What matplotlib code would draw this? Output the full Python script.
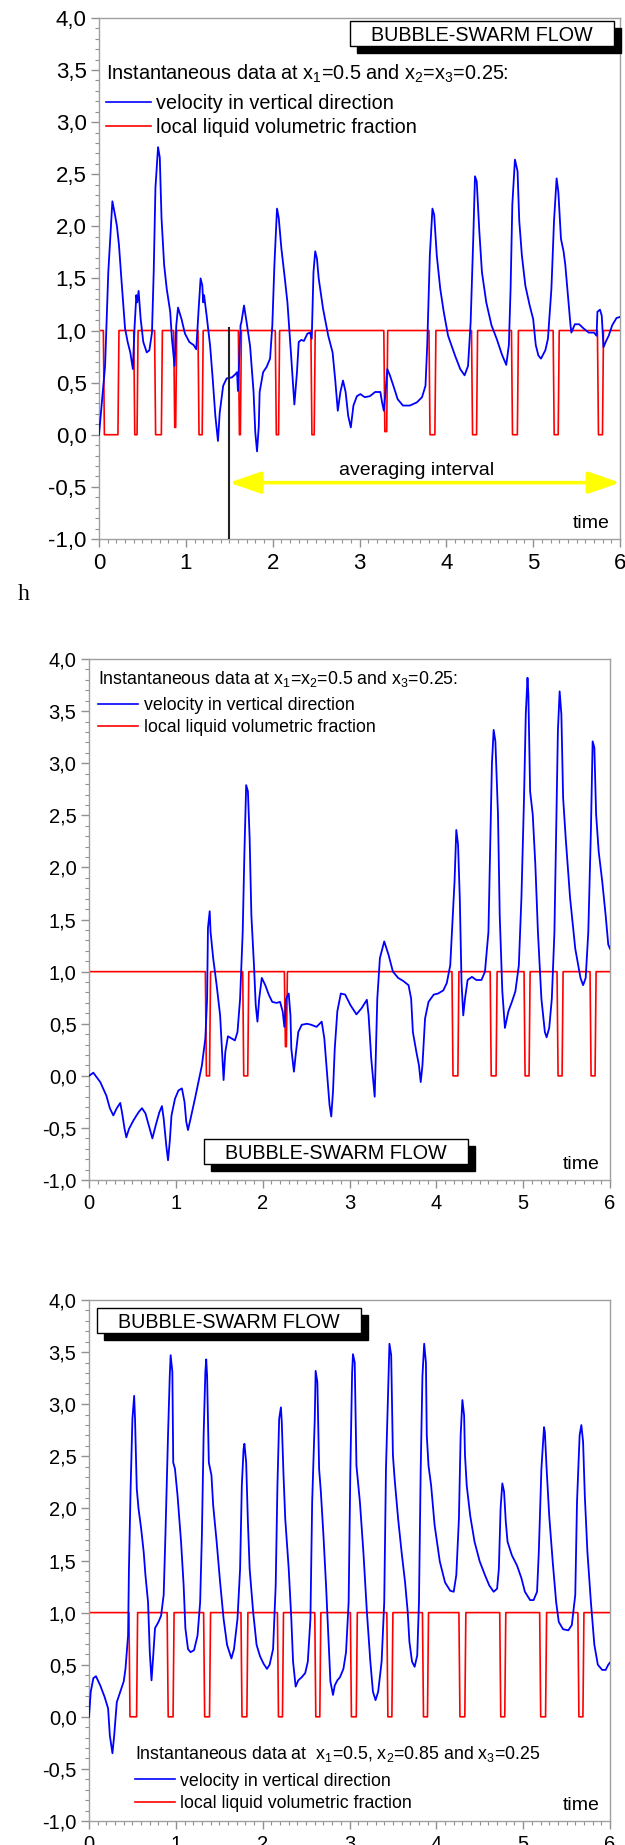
import matplotlib
matplotlib.use('Agg')
import matplotlib.pyplot as plt
from matplotlib.ticker import MultipleLocator, FuncFormatter
from matplotlib.patches import Rectangle

plt.rcParams['font.family'] = ['Liberation Sans', 'DejaVu Sans']

# ---- panel 1: x1=0.5, x2=x3=0.25 ----
t1 = [0.0, 0.07, 0.107, 0.154, 0.184, 0.207, 0.23, 0.26, 0.30, 0.33, 0.36, 0.39, 0.41, 0.43, 0.44,
      0.456, 0.48, 0.51, 0.55, 0.58, 0.61, 0.63, 0.65, 0.68, 0.70, 0.72, 0.75, 0.78, 0.82, 0.84,
      0.87, 0.89, 0.91, 0.95, 0.99, 1.04, 1.09, 1.12, 1.15, 1.17, 1.19, 1.20, 1.21, 1.24, 1.28,
      1.31, 1.34, 1.37, 1.39, 1.43, 1.47, 1.53, 1.57, 1.59, 1.60, 1.63, 1.64, 1.67, 1.70, 1.74,
      1.78, 1.80, 1.82, 1.84, 1.85, 1.89, 1.93, 1.97, 1.996, 2.02, 2.05, 2.07, 2.10, 2.14, 2.17,
      2.21, 2.25, 2.28, 2.30, 2.33, 2.36, 2.40, 2.43, 2.45, 2.47, 2.49, 2.51, 2.53, 2.58, 2.64,
      2.69, 2.72, 2.75, 2.78, 2.81, 2.84, 2.87, 2.90, 2.93, 2.97, 3.01, 3.06, 3.12, 3.18, 3.24,
      3.26, 3.28, 3.30, 3.32, 3.35, 3.39, 3.44, 3.50, 3.58, 3.66, 3.72, 3.76, 3.78, 3.81, 3.84,
      3.86, 3.89, 3.93, 3.97, 4.02, 4.10, 4.16, 4.21, 4.25, 4.28, 4.31, 4.33, 4.35, 4.38, 4.41,
      4.46, 4.52, 4.58, 4.64, 4.69, 4.72, 4.74, 4.76, 4.79, 4.82, 4.84, 4.87, 4.91, 4.96, 5.00,
      5.03, 5.06, 5.09, 5.14, 5.17, 5.21, 5.24, 5.27, 5.29, 5.32, 5.35, 5.37, 5.40, 5.43, 5.44,
      5.48, 5.53, 5.58, 5.64, 5.70, 5.73, 5.74, 5.77, 5.79, 5.81, 5.84, 5.87, 5.91, 5.96, 6.0]
vel1 = [0.0, 0.66, 1.56, 2.24, 2.11, 2.0, 1.82, 1.47, 1.02, 0.89, 0.79, 0.63, 1.04, 1.34, 1.27,
        1.38, 1.11, 0.89, 0.79, 0.81, 0.98, 1.56, 2.37, 2.76, 2.66, 2.08, 1.63, 1.40, 1.18, 0.92,
        0.66, 1.05, 1.22, 1.11, 0.97, 0.89, 0.86, 0.82, 1.24, 1.50, 1.43, 1.27, 1.34, 1.14, 0.85,
        0.53, 0.18, -0.06, 0.21, 0.47, 0.54, 0.55, 0.58, 0.60, 0.42, 1.05, 1.08, 1.24, 1.08, 0.85,
        0.41, 0.02, -0.16, 0.08, 0.41, 0.60, 0.65, 0.73, 1.05, 1.63, 2.17, 2.08, 1.79, 1.50, 1.27,
        0.79, 0.29, 0.60, 0.89, 0.91, 0.90, 0.97, 0.98, 0.92, 1.56, 1.76, 1.69, 1.50, 1.21, 0.95,
        0.79, 0.53, 0.23, 0.41, 0.52, 0.41, 0.18, 0.07, 0.28, 0.37, 0.39, 0.36, 0.37, 0.41, 0.41,
        0.31, 0.23, 0.41, 0.63, 0.57, 0.47, 0.34, 0.28, 0.28, 0.31, 0.36, 0.47, 0.86, 1.72, 2.17,
        2.11, 1.72, 1.40, 1.18, 0.95, 0.76, 0.63, 0.57, 0.66, 1.08, 1.88, 2.48, 2.43, 1.95, 1.56,
        1.27, 1.05, 0.92, 0.77, 0.67, 0.86, 1.40, 2.21, 2.64, 2.53, 2.05, 1.72, 1.43, 1.24, 1.11,
        0.86, 0.76, 0.73, 0.81, 0.92, 1.40, 2.05, 2.46, 2.33, 1.88, 1.76, 1.63, 1.34, 1.05, 0.98,
        1.06, 1.06, 1.02, 0.98, 0.98, 0.95, 1.18, 1.20, 1.14, 0.84, 0.90, 0.95, 1.05, 1.12, 1.13]
# liquid fraction dips: (start, end, lowest value)
dips1 = [(0.05, 0.23, 0.0), (0.40, 0.45, 0.0), (0.64, 0.73, 0.0), (0.86, 0.895, 0.07),
         (1.14, 1.20, 0.0), (1.605, 1.64, 0.0), (2.03, 2.08, 0.0), (2.44, 2.49, 0.0),
         (3.28, 3.325, 0.03), (3.80, 3.88, 0.0), (4.29, 4.36, 0.0), (4.75, 4.83, 0.0),
         (5.23, 5.30, 0.0), (5.74, 5.81, 0.0)]

# ---- panel 2: x1=x2=0.5, x3=0.25 ----
t2 = [0.0, 0.05, 0.13, 0.20, 0.24, 0.28, 0.32, 0.36, 0.38, 0.41, 0.43, 0.46, 0.51, 0.57, 0.61,
      0.65, 0.70, 0.73, 0.77, 0.81, 0.84, 0.86, 0.89, 0.91, 0.93, 0.95, 0.99, 1.03, 1.07, 1.10,
      1.12, 1.14, 1.17, 1.22, 1.26, 1.30, 1.34, 1.36, 1.37, 1.39, 1.40, 1.43, 1.47, 1.51, 1.54,
      1.55, 1.57, 1.60, 1.64, 1.68, 1.71, 1.74, 1.77, 1.79, 1.81, 1.83, 1.85, 1.87, 1.90, 1.92,
      1.94, 1.96, 1.99, 2.03, 2.07, 2.11, 2.16, 2.20, 2.23, 2.25, 2.27, 2.30, 2.32, 2.33, 2.36,
      2.38, 2.41, 2.45, 2.51, 2.56, 2.62, 2.68, 2.71, 2.74, 2.77, 2.79, 2.81, 2.83, 2.86, 2.90,
      2.95, 3.01, 3.08, 3.14, 3.20, 3.22, 3.25, 3.29, 3.30, 3.32, 3.35, 3.40, 3.45, 3.50, 3.56,
      3.62, 3.68, 3.71, 3.73, 3.77, 3.80, 3.82, 3.84, 3.87, 3.91, 3.97, 4.02, 4.08, 4.12, 4.16,
      4.18, 4.21, 4.23, 4.25, 4.27, 4.29, 4.31, 4.33, 4.36, 4.41, 4.46, 4.52, 4.56, 4.60, 4.62,
      4.64, 4.66, 4.68, 4.71, 4.73, 4.76, 4.79, 4.83, 4.87, 4.91, 4.95, 4.98, 5.01, 5.03, 5.05,
      5.06, 5.08, 5.11, 5.14, 5.17, 5.21, 5.25, 5.27, 5.30, 5.33, 5.36, 5.38, 5.40, 5.42, 5.44,
      5.46, 5.49, 5.54, 5.60, 5.66, 5.69, 5.72, 5.75, 5.78, 5.80, 5.82, 5.84, 5.87, 5.91, 5.95,
      5.98, 6.0]
vel2 = [0.0, 0.03, -0.06, -0.19, -0.31, -0.38, -0.31, -0.26, -0.35, -0.51, -0.59, -0.51, -0.43,
        -0.35, -0.31, -0.36, -0.51, -0.60, -0.47, -0.35, -0.29, -0.41, -0.67, -0.81, -0.63, -0.38,
        -0.22, -0.14, -0.12, -0.25, -0.44, -0.52, -0.41, -0.22, -0.06, 0.10, 0.36, 0.74, 1.42,
        1.58, 1.38, 1.13, 0.87, 0.58, 0.10, -0.04, 0.23, 0.38, 0.36, 0.34, 0.42, 0.74, 1.38, 2.15,
        2.79, 2.73, 2.28, 1.54, 1.06, 0.68, 0.52, 0.74, 0.94, 0.87, 0.78, 0.71, 0.70, 0.71, 0.62,
        0.47, 0.74, 0.79, 0.58, 0.26, 0.04, 0.20, 0.42, 0.49, 0.50, 0.49, 0.47, 0.52, 0.36, 0.04,
        -0.28, -0.39, -0.15, 0.26, 0.62, 0.79, 0.78, 0.68, 0.59, 0.65, 0.73, 0.58, 0.17, -0.20,
        0.10, 0.74, 1.13, 1.29, 1.16, 1.00, 0.94, 0.91, 0.87, 0.74, 0.42, 0.23, 0.10, -0.06, 0.10,
        0.55, 0.71, 0.78, 0.79, 0.82, 0.89, 1.06, 1.38, 1.87, 2.36, 2.22, 1.71, 0.90, 0.58, 0.74,
        0.92, 0.95, 0.92, 0.92, 1.00, 1.38, 2.19, 2.99, 3.32, 3.21, 2.51, 1.54, 0.81, 0.46, 0.62,
        0.71, 0.81, 1.06, 1.71, 2.67, 3.47, 3.82, 3.66, 2.73, 2.51, 2.03, 1.38, 0.74, 0.42, 0.37,
        0.46, 0.74, 1.38, 2.35, 3.31, 3.69, 3.47, 2.67, 2.28, 1.71, 1.22, 0.94, 0.87, 0.94, 1.38,
        2.35, 3.21, 3.15, 2.51, 2.15, 1.87, 1.54, 1.26, 1.22]
dips2 = [(1.34, 1.40, 0.0), (1.77, 1.84, 0.0), (2.25, 2.285, 0.28), (4.18, 4.26, 0.0),
         (4.62, 4.70, 0.0), (5.01, 5.08, 0.0), (5.39, 5.46, 0.0), (5.77, 5.84, 0.0)]

# ---- panel 3: x1=0.5, x2=0.85, x3=0.25 ----
t3 = [0.0, 0.02, 0.05, 0.08, 0.13, 0.18, 0.22, 0.24, 0.27, 0.29, 0.32, 0.36, 0.40, 0.42, 0.45,
      0.46, 0.48, 0.50, 0.52, 0.53, 0.55, 0.57, 0.60, 0.63, 0.65, 0.68, 0.70, 0.72, 0.74, 0.76,
      0.80, 0.83, 0.86, 0.88, 0.91, 0.93, 0.94, 0.96, 0.97, 0.99, 1.02, 1.06, 1.09, 1.11, 1.14,
      1.17, 1.21, 1.25, 1.28, 1.30, 1.32, 1.34, 1.35, 1.36, 1.38, 1.41, 1.43, 1.47, 1.51, 1.55,
      1.59, 1.64, 1.67, 1.71, 1.74, 1.76, 1.78, 1.79, 1.81, 1.83, 1.85, 1.89, 1.93, 1.97, 2.01,
      2.05, 2.08, 2.12, 2.15, 2.17, 2.19, 2.21, 2.22, 2.24, 2.26, 2.30, 2.33, 2.35, 2.38, 2.41,
      2.45, 2.49, 2.52, 2.55, 2.57, 2.60, 2.61, 2.63, 2.65, 2.67, 2.70, 2.73, 2.76, 2.78, 2.81,
      2.83, 2.86, 2.89, 2.93, 2.96, 2.99, 3.01, 3.03, 3.04, 3.06, 3.08, 3.12, 3.16, 3.20, 3.24,
      3.27, 3.30, 3.33, 3.37, 3.40, 3.42, 3.45, 3.46, 3.48, 3.50, 3.52, 3.56, 3.60, 3.64, 3.67,
      3.69, 3.72, 3.75, 3.78, 3.80, 3.82, 3.84, 3.86, 3.88, 3.89, 3.91, 3.94, 3.98, 4.04, 4.10,
      4.16, 4.20, 4.23, 4.26, 4.28, 4.30, 4.32, 4.33, 4.35, 4.39, 4.44, 4.50, 4.56, 4.61, 4.66,
      4.70, 4.72, 4.74, 4.76, 4.78, 4.80, 4.82, 4.87, 4.93, 4.98, 5.02, 5.08, 5.12, 5.16, 5.18,
      5.21, 5.24, 5.25, 5.27, 5.30, 5.34, 5.38, 5.41, 5.46, 5.52, 5.56, 5.60, 5.62, 5.65, 5.67,
      5.69, 5.71, 5.74, 5.78, 5.82, 5.86, 5.91, 5.95, 5.98, 6.0]
vel3 = [0.0, 0.24, 0.37, 0.39, 0.30, 0.19, 0.08, -0.18, -0.35, -0.18, 0.14, 0.24, 0.34, 0.46,
        0.78, 1.42, 2.22, 2.86, 3.08, 2.86, 2.19, 2.00, 1.81, 1.58, 1.36, 1.10, 0.62, 0.35, 0.59,
        0.85, 0.91, 0.97, 1.17, 1.74, 2.70, 3.27, 3.47, 3.31, 2.44, 2.38, 2.12, 1.68, 1.26, 0.85,
        0.65, 0.62, 0.64, 0.78, 1.10, 1.74, 2.70, 3.31, 3.43, 3.27, 2.44, 2.32, 2.03, 1.68, 1.29,
        0.94, 0.69, 0.56, 0.65, 0.94, 1.42, 2.22, 2.57, 2.62, 2.44, 1.87, 1.42, 1.01, 0.69, 0.58,
        0.51, 0.46, 0.50, 0.65, 1.26, 2.22, 2.86, 2.97, 2.83, 2.32, 1.90, 1.42, 0.94, 0.53, 0.29,
        0.35, 0.38, 0.42, 0.53, 0.94, 2.06, 2.86, 3.32, 3.21, 2.38, 2.16, 1.74, 1.26, 0.72, 0.34,
        0.21, 0.30, 0.35, 0.38, 0.46, 0.62, 1.10, 2.38, 3.30, 3.48, 3.40, 2.41, 2.06, 1.58, 1.01,
        0.53, 0.24, 0.16, 0.24, 0.53, 1.10, 2.38, 3.27, 3.58, 3.47, 2.51, 2.28, 1.90, 1.58, 1.29,
        1.01, 0.72, 0.53, 0.48, 0.59, 1.10, 2.38, 3.27, 3.58, 3.40, 2.70, 2.41, 2.22, 1.84, 1.49,
        1.29, 1.21, 1.20, 1.36, 1.90, 2.70, 3.04, 2.89, 2.51, 2.22, 1.93, 1.68, 1.49, 1.36, 1.26,
        1.20, 1.23, 1.42, 2.00, 2.24, 2.16, 1.87, 1.68, 1.55, 1.45, 1.33, 1.20, 1.12, 1.12, 1.20,
        1.58, 2.38, 2.78, 2.73, 2.38, 1.93, 1.49, 1.10, 0.91, 0.84, 0.83, 0.88, 1.17, 2.06, 2.70,
        2.80, 2.64, 2.12, 1.58, 1.10, 0.69, 0.50, 0.45, 0.45, 0.50, 0.52]
dips3 = [(0.46, 0.56, 0.0), (0.90, 0.98, 0.0), (1.32, 1.40, 0.0), (1.75, 1.83, 0.0),
         (2.17, 2.24, 0.0), (2.60, 2.67, 0.0), (3.01, 3.09, 0.0), (3.43, 3.50, 0.0),
         (3.84, 3.91, 0.0), (4.26, 4.34, 0.0), (4.73, 4.80, 0.0), (5.19, 5.27, 0.0),
         (5.63, 5.70, 0.0)]

titles = ['Instantaneous data at x$_\\mathregular{1}$=0.5 and x$_\\mathregular{2}$=x$_\\mathregular{3}$=0.25:',
          'Instantaneous data at x$_\\mathregular{1}$=x$_\\mathregular{2}$=0.5 and x$_\\mathregular{3}$=0.25:',
          'Instantaneous data at  x$_\\mathregular{1}$=0.5, x$_\\mathregular{2}$=0.85 and x$_\\mathregular{3}$=0.25']
lab_vel = 'velocity in vertical direction'
lab_frac = 'local liquid volumetric fraction'


def fraction_line(dips, w=0.012):
    t, v = [0.0], [1.0]
    for a, b, d in dips:
        e = min(w, (b - a) / 2)
        t += [a, a + e, b - e, b]
        v += [1.0, d, d, 1.0]
    t.append(6.0)
    v.append(1.0)
    return t, v


def style(ax, tsize):
    ax.set_xlim(0, 6)
    ax.set_ylim(-1, 4)
    ax.xaxis.set_major_locator(MultipleLocator(1))
    ax.xaxis.set_minor_locator(MultipleLocator(0.1))
    ax.yaxis.set_major_locator(MultipleLocator(0.5))
    ax.yaxis.set_minor_locator(MultipleLocator(0.1))
    ax.yaxis.set_major_formatter(FuncFormatter(lambda v, p: f'{v:.1f}'.replace('.', ',')))
    ax.tick_params(which='major', length=6, width=1, color='#909090', labelsize=tsize, pad=3)
    ax.tick_params(which='minor', length=3, width=0.8, color='#909090')
    ax.tick_params(axis='x', pad=4)
    for s in ax.spines.values():
        s.set_color('#a0a0a0')
        s.set_linewidth(1.0)


def swarm_box(ax, x0, y0, w=0.506, h=0.048):
    d = 7 / 521
    ax.add_patch(Rectangle((x0 + d, y0 - d), w, h, transform=ax.transAxes,
                           fc='black', ec='black', lw=1, zorder=5, clip_on=False))
    ax.add_patch(Rectangle((x0, y0), w, h, transform=ax.transAxes,
                           fc='white', ec='black', lw=1, zorder=6, clip_on=False))
    ax.text(x0 + w / 2, y0 + h / 2, 'BUBBLE-SWARM FLOW', transform=ax.transAxes,
            ha='center', va='center_baseline', fontsize=14.2, zorder=7)


def key(ax, x, y, title, fs, linelen, dy1, dy2):
    ax.text(x, y, title, transform=ax.transAxes, ha='left', va='center_baseline', fontsize=fs)
    for dy, c, lab in [(dy1, 'blue', lab_vel), (dy2, 'red', lab_frac)]:
        ax.plot([x, x + linelen], [y + dy, y + dy], transform=ax.transAxes, color=c, lw=1.2)
        ax.text(x + linelen + 0.01, y + dy, lab, transform=ax.transAxes,
                ha='left', va='center_baseline', fontsize=fs)


fig = plt.figure(figsize=(6.25, 18.45), dpi=100)
ax1 = fig.add_axes([0.1584, 0.7079, 0.8336, 0.2824])
ax2 = fig.add_axes([0.1424, 0.3604, 0.8336, 0.2824])
ax3 = fig.add_axes([0.1424, 0.0130, 0.8336, 0.2824])

for ax, t, vel, dips, tsize in [(ax1, t1, vel1, dips1, 16), (ax2, t2, vel2, dips2, 14.5),
                               (ax3, t3, vel3, dips3, 14.5)]:
    style(ax, tsize)
    ft, fv = fraction_line(dips)
    ax.plot(ft, fv, color='red', lw=1.2, zorder=2)
    ax.plot(t, vel, color='blue', lw=1.3, zorder=3)
    ax.text(0.945, 0.034, 'time', transform=ax.transAxes, ha='center', va='center_baseline',
            fontsize=14)

# panel 1 decorations
swarm_box(ax1, 0.482, 0.9455)
key(ax1, 0.013, 0.8975, titles[0], 14.3, 0.086, -0.0585, -0.1045)
ax1.plot([1.5, 1.5], [-1, 1.02], color='#222222', lw=1.5, zorder=4)
ax1.annotate('', xy=(6.0, -0.46), xytext=(1.5, -0.46),
             arrowprops=dict(arrowstyle='<|-|>,head_length=1.3,head_width=0.45',
                             color='yellow', lw=2.6, mutation_scale=15,
                             shrinkA=0, shrinkB=0), annotation_clip=False, zorder=4)
ax1.text(3.66, -0.32, 'averaging interval', ha='center', va='center_baseline', fontsize=14)

# panel 2
swarm_box(ax2, 0.221, 0.031)
key(ax2, 0.018, 0.967, titles[1], 12.8, 0.077, -0.053, -0.095)

# panel 3
swarm_box(ax3, 0.016, 0.937)
key(ax3, 0.0875, 0.134, titles[2], 12.8, 0.077, -0.054, -0.097)

fig.text(18 / 625, 1 - 592 / 1845, 'h', family='Liberation Serif', fontsize=17,
         ha='left', va='center_baseline')

fig.savefig('out.png', dpi=100)
